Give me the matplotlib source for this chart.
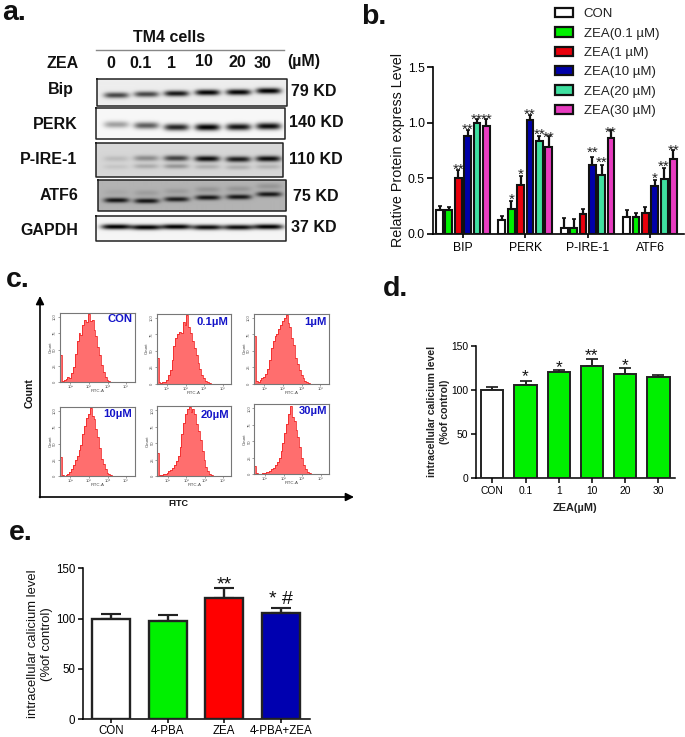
import numpy as np
import matplotlib
matplotlib.use("Agg")
import matplotlib.pyplot as plt
from matplotlib.patches import Patch

plt.rcParams['font.family'] = ['Liberation Sans', 'DejaVu Sans']
W, H = 685, 737

# ---- data ----
doses = ['0', '0.1', '1', '10', '20', '30']
blot_names = ['Bip', 'PERK', 'P-IRE-1', 'ATF6', 'GAPDH']
blot_kd = ['79 KD', '140 KD', '110 KD', '75 KD', '37 KD']
bip_band = [.70, .70, .90, .98, .98, 1.0]
perk_band = [.35, .62, .85, 1.0, .92, .95]
pire_band = [.12, .35, .70, .95, .88, .95]
pire_lower = [.08, .20, .30, .18, .18, .16]
atf6_band = [.90, .90, .85, .88, .88, .88]
atf6_upper = [.06, .12, .12, .16, .16, .16]
gapdh_band = [1.0, 1.0, 1.0, .95, .95, 1.0]

groups_b = ['BIP', 'PERK', 'P-IRE-1', 'ATF6']
series_b = ['CON', 'ZEA(0.1 µM)', 'ZEA(1 µM)', 'ZEA(10 µM)', 'ZEA(20 µM)', 'ZEA(30 µM)']
con_b = [.21, .12, .05, .15]
zea01_b = [.21, .22, .05, .15]
zea1_b = [.50, .44, .18, .19]
zea10_b = [.88, 1.02, .62, .43]
zea20_b = [1.00, .83, .53, .49]
zea30_b = [.97, .78, .86, .67]
con_b_top = [.25, .16, .14, .21]
zea01_b_top = [.24, .29, .13, .19]
zea1_b_top = [.57, .52, .22, .24]
zea10_b_top = [.93, 1.07, .69, .48]
zea20_b_top = [1.03, .88, .62, .59]
zea30_b_top = [1.03, .88, .93, .75]
stars_b = [  # group, series, height, text
    (0, 2, .62, '**'), (0, 3, .98, '**'), (0, 4, 1.07, '**'), (0, 5, 1.07, '**'),
    (1, 1, .35, '*'), (1, 2, .57, '*'), (1, 3, 1.11, '**'), (1, 4, .93, '**'), (1, 5, .91, '**'),
    (2, 3, .77, '**'), (2, 4, .68, '**'), (2, 5, .95, '**'),
    (3, 3, .54, '*'), (3, 4, .65, '**'), (3, 5, .79, '**')]

flow_labels = ['CON', '0.1µM', '1µM', '10µM', '20µM', '30µM']
flow_con = [.40,.02,.03,.05,.08,.07,.13,.22,.42,.60,.72,.70,.84,.92,.88,1.0,.90,.92,.76,.68,.52,.40,.26,.15,.08,.04,.02,.01]
flow_01 = [.38,.02,.01,.02,.03,.06,.12,.20,.34,.55,.66,.72,.76,.74,.90,.86,1.0,.82,.74,.62,.52,.42,.30,.22,.13,.08,.04,.02,.01]
flow_1 = [.70,.04,.03,.06,.09,.10,.14,.22,.34,.52,.62,.70,.72,.80,.86,.92,.96,1.0,.88,.82,.66,.56,.38,.28,.20,.12,.08,.04,.02,.01]
flow_10 = [.28,.02,.01,.02,.04,.06,.10,.16,.24,.30,.38,.46,.62,.74,.86,.92,1.0,.88,.84,.70,.58,.42,.26,.18,.10,.05,.03,.02,.01]
flow_20 = [.34,.02,.02,.03,.04,.05,.07,.09,.12,.16,.22,.30,.42,.62,.78,.90,.98,1.0,.94,.98,.90,.76,.66,.52,.36,.24,.14,.08,.04,.02,.01]
flow_30 = [.12,.02,.01,.01,.02,.02,.03,.04,.05,.07,.09,.13,.18,.24,.34,.46,.60,.74,.88,1.0,.84,.78,.64,.54,.40,.24,.14,.08,.04,.02,.01]

cats_d = ['CON', '0.1', '1', '10', '20', '30']
vals_d = [100, 105, 120, 127, 118, 114]
tops_d = [103, 110, 123, 135, 125, 117]
stars_d = [None, '*', '*', '**', '*', None]
stars_d_y = [0, 122, 132, 145, 134, 0]

cats_e = ['CON', '4-PBA', 'ZEA', '4-PBA+ZEA']
vals_e = [100, 98, 120, 106]
tops_e = [105, 104, 130, 110]
stars_e = [None, None, '**', '* #']
stars_e_y = [0, 0, 138, 123]

# ---- styles ----
cols_b = ['white', '#00F000', '#E8000C', '#0000A8', '#3FE0A0', '#E83CC0']
DARK = '#111111'
fig = plt.figure(figsize=(W/100, H/100), dpi=100)


def axpx(x0, y0, x1, y1, **kw):
    """axes from pixel box with y measured from the top"""
    return fig.add_axes([x0/W, 1-y1/H, (x1-x0)/W, (y1-y0)/H], **kw)


ov = axpx(0, 0, W, H)
ov.set_xlim(0, W); ov.set_ylim(H, 0); ov.axis('off')


def T(x, y, s, size=11.5, weight='bold', ha='center', va='center', **kw):
    ov.text(x, y, s, fontsize=size, fontweight=weight, ha=ha, va=va, color=kw.pop('color', '#111111'), **kw)


for x, y, s in [(2, 20, 'a.'), (361, 24, 'b.'), (6, 287, 'c.'), (383, 296, 'd.'), (9, 540, 'e.')]:
    T(x, y, s, size=20.5, ha='left', va='baseline')

# ---- a: western blots ----
T(169, 37.5, 'TM4 cells')
ov.plot([96.5, 284.5], [50, 50], color='#888888', lw=1)
T(63, 63, 'ZEA')
for x, y, s in zip([111, 141, 172, 204, 237, 263], [63, 63, 63, 61.5, 62, 63], doses):
    T(x, y, s)
T(304, 61.5, '(µM)')
for (x, y), s in zip([(61, 89), (55, 124), (49, 159), (59, 195), (49, 230)], blot_names):
    T(x, y, s)
for (x, y), s in zip([(291, 91), (289, 122), (289, 159), (293, 196), (291, 227)], blot_kd):
    T(x, y, s, ha='left')

lanes = np.array([116, 146, 176, 207, 238, 268.0])
boxes = [(96.7, 79.3, 286.7, 105.7), (95.7, 108, 284.7, 139), (96, 143, 283, 176.7),
         (97.7, 180, 286, 211), (96, 215.7, 286, 241)]
bgs = [.93, .97, .84, .70, .96]
ycent = [[95, 94, 93.3, 92.3, 92, 90.7], [124.3, 125.3, 127, 127, 126.7, 126],
         [158.5, 158, 158, 158.5, 159, 158.5], [200, 200.7, 199, 197.3, 196.7, 194],
         [227, 227.5, 227, 227.5, 227.5, 227]]
bands = [bip_band, perk_band, pire_band, atf6_band, gapdh_band]
widths = [12.5, 12.5, 12.5, 12.5, 15]
thick = [2.9, 3.4, 2.9, 2.5, 2.6]
for k, (box, bg) in enumerate(zip(boxes, bgs)):
    x0, y0, x1, y1 = box
    X, Y = np.meshgrid(np.arange(x0, x1, .5), np.arange(y0, y1, .5))
    im = np.full(X.shape, bg)
    for j, xc in enumerate(lanes):
        lane = np.exp(-((X-xc)/widths[k])**4)
        im -= bands[k][j]*bg*lane*np.exp(-((Y-ycent[k][j])/thick[k])**2)
        if k == 2:
            im -= pire_lower[j]*bg*lane*np.exp(-((Y-ycent[k][j]-8)/2.5)**2)
        if k == 3:
            im -= atf6_upper[j]*bg*lane*np.exp(-((Y-ycent[k][j]+8)/3)**2)
    ov.imshow(np.clip(im, 0, 1), extent=(x0, x1, y1, y0), cmap='gray', vmin=0, vmax=1,
              aspect='auto', interpolation='bilinear', zorder=1)
    ov.plot([x0, x1, x1, x0, x0], [y0, y0, y1, y1, y0], color='#222222', lw=1.1, zorder=2)
ov.set_xlim(0, W); ov.set_ylim(H, 0)

# ---- b ----
ax = axpx(433, 67, 684, 233.7)
ax.patch.set_alpha(0)
values_b = [con_b, zea01_b, zea1_b, zea10_b, zea20_b, zea30_b]
tops_b = [con_b_top, zea01_b_top, zea1_b_top, zea10_b_top, zea20_b_top, zea30_b_top]
w = .15
gx = np.arange(4)
handles = []
for i, (v, t, c, name) in enumerate(zip(values_b, tops_b, cols_b, series_b)):
    xs = gx+(i-2.5)*w
    ax.bar(xs, v, w*.74, color=c, edgecolor=DARK, lw=1.5, zorder=3)
    ax.errorbar(xs, v, yerr=[np.zeros(4), np.array(t)-np.array(v)], fmt='none', ecolor=DARK,
                elinewidth=1.6, capsize=1.5, capthick=1.2, zorder=2, clip_on=False)
    handles.append(Patch(facecolor=c, edgecolor=DARK, lw=1.6, label=name))
for g, s, y, txt in stars_b:
    ax.annotate(txt, (g+(s-2.5)*w, y), xytext=(0, -6.4), textcoords='offset points', ha='center',
                va='baseline', fontsize=11, color='#222222', zorder=5)
ax.set_xlim(-.48, 3.545); ax.set_ylim(0, 1.5)
ax.set_yticks([0, .5, 1, 1.5], ['0.0', '0.5', '1.0', '1.5'])
ax.set_xticks(gx, groups_b)
ax.set_ylabel('Relative Protein express Level', fontsize=10.3, fontweight='normal', labelpad=1.5, color='#111111')
ax.tick_params(axis='y', labelsize=8.8, length=4, width=1.2, pad=2)
ax.tick_params(axis='x', labelsize=8.8, length=3, width=1.2, pad=3)
for s in ['top', 'right']:
    ax.spines[s].set_visible(False)
for s in ['left', 'bottom']:
    ax.spines[s].set_linewidth(1.2)
fig.legend(handles=handles, loc='upper left', bbox_to_anchor=(555/W, 1-8/H), frameon=False, fontsize=9.5,
           labelspacing=.53, handlelength=1.38, handleheight=.72, handletextpad=.8, borderpad=0, borderaxespad=0,
           labelcolor='#222222')

# ---- c: flow ----
flow_data = [flow_con, flow_01, flow_1, flow_10, flow_20, flow_30]
flow_boxes = [(60, 312.7, 134.5, 382.3), (156.7, 313.7, 231, 383.7), (254, 313.7, 328.7, 383.7),
              (60, 406.7, 134.5, 476.3), (157.3, 406, 231.3, 476.3), (254.3, 404.3, 329.3, 474.3)]
flow_label_y = [.91, .877, .877, .895, .875, .905]
N_BINS = 40
for box, h, lab, ly in zip(flow_boxes, flow_data, flow_labels, flow_label_y):
    a = axpx(*box)
    h = list(h) + [0]*(N_BINS-len(h))
    edges = np.linspace(0, 1, N_BINS+1)
    a.stairs(h, edges, fill=True, color='#FF6E6E', lw=0)
    a.stairs(h, edges, color='#F02020', lw=.55, baseline=None)
    a.set_xlim(0, 1); a.set_ylim(0, 1.02)
    a.set_xticks([.14, .39, .64, .89], ['10²', '10³', '10⁴', '10⁵'])
    a.set_yticks([0, .24, .48, .72, .96], ['0', '25', '50', '75', '100'], rotation=90, va='center')
    a.tick_params(labelsize=3, length=1.5, width=.4, pad=.6, colors='#555555')
    a.set_xlabel('FITC-A', fontsize=3.2, labelpad=.2, color='#444444')
    a.set_ylabel('Count', fontsize=3.2, labelpad=.6, color='#444444')
    for s in a.spines.values():
        s.set_color('#777777'); s.set_linewidth(.8)
    a.text(.97, ly, lab, transform=a.transAxes, ha='right', va='center', fontsize=8.1,
           fontweight='bold', color='#1414C8')
ov.annotate('', xy=(40, 296), xytext=(40, 497.5), arrowprops=dict(arrowstyle='-|>', color='black', lw=1.2, mutation_scale=12, shrinkA=0, shrinkB=0))
ov.annotate('', xy=(354, 497), xytext=(39.5, 497), arrowprops=dict(arrowstyle='-|>', color='black', lw=1.2, mutation_scale=12, shrinkA=0, shrinkB=0))
T(30, 393, 'Count', size=7.5, rotation=90)
T(178, 503, 'FITC', size=6.5)


def simple_bars(box, xlim, vals, tops, cols, cats, stars, stars_y, lw, tick, star_size, star_off):
    a = axpx(*box)
    a.patch.set_alpha(0)
    xs = np.arange(len(vals))
    a.bar(xs, vals, .67, color=cols, edgecolor='#222222', lw=lw, zorder=3)
    a.errorbar(xs, vals, yerr=[np.zeros(len(vals)), np.array(tops)-np.array(vals)], fmt='none',
               ecolor='#222222', elinewidth=lw, capsize=tick, capthick=lw*.9, zorder=2)
    for x, s, y in zip(xs, stars, stars_y):
        if s:
            a.annotate(s, (x, y), xytext=(0, star_off), textcoords='offset points', ha='center', va='baseline',
                       fontsize=star_size, color='#111111')
    a.set_xlim(*xlim); a.set_ylim(0, 150)
    a.set_yticks([0, 50, 100, 150]); a.set_xticks(xs, cats)
    for s in ['top', 'right']:
        a.spines[s].set_visible(False)
    for s in ['left', 'bottom']:
        a.spines[s].set_linewidth(1.1)
    a.tick_params(length=3.5, width=1.1, pad=2)
    return a


# ---- d ----
ad = simple_bars((476, 345.7, 675, 478), (-.49, 5.5), vals_d, tops_d, ['white']+['#00F000']*5, cats_d,
                 stars_d, stars_d_y, 1.4, 4.5, 12.5, -7.5)
ad.tick_params(labelsize=7.4)
ad.set_ylabel('intracellular calicium level\n(%of control)', fontsize=7.6, fontweight='bold', labelpad=1,
              linespacing=1.3, color='#222222')
T(575, 508, 'ZEA(µM)', size=7.8, color='#222222')

# ---- e ----
ae = simple_bars((82.7, 568.3, 310, 719), (-.508, 3.52), vals_e, tops_e, ['white', '#00F000', '#FF0000', '#0000B0'],
                 cats_e, stars_e, stars_e_y, 1.7, 7, 14, -6.5)
ae.tick_params(labelsize=8.3)
ae.tick_params(axis='x', pad=1.5, length=3)
ae.set_ylabel('intracellular calicium level\n(%of control)', fontsize=9.4, fontweight='normal', labelpad=2,
              linespacing=1.25, color='#111111')

fig.savefig('out.png', dpi=100)
